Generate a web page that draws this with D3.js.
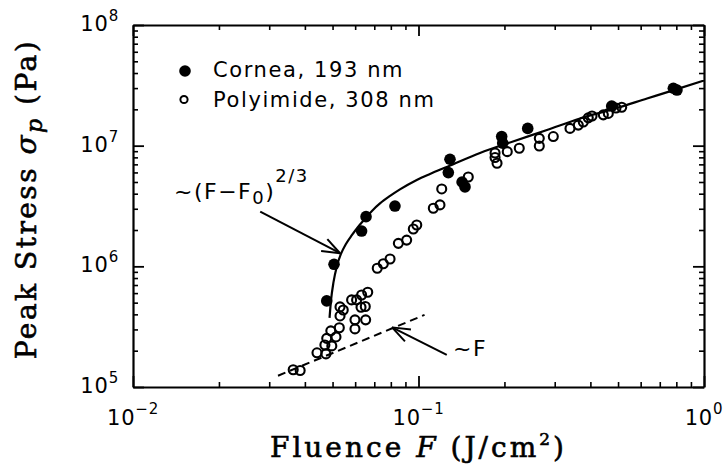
<!DOCTYPE html>
<html>
<head>
<meta charset="utf-8">
<script src="https://cdn.jsdelivr.net/npm/d3@7"></script>
<style>
  body { margin: 0; background: #fff; }
  svg { display: block; }
  .axis path, .axis line { stroke: #000; }
</style>
</head>
<body>
<svg id="chart" width="728" height="471"></svg>
<script>
// cornea, 193 nm (filled dots)
const corneaFluence = [0.0477, 0.0506, 0.0632, 0.0655, 0.0827, 0.1272, 0.1289, 0.1421, 0.1455,
  0.1956, 0.1972, 0.2413, 0.475, 0.781, 0.804];
const corneaStress = [5.17e5, 1.04e6, 1.96e6, 2.58e6, 3.16e6, 5.98e6, 7.72e6, 5.0e6, 4.55e6,
  1.19e7, 1.05e7, 1.39e7, 2.13e7, 2.99e7, 2.89e7];

// polyimide, 308 nm (open dots)
const polyFluence = [0.0364, 0.0385, 0.0441, 0.0474, 0.0470, 0.0497, 0.0477, 0.0514, 0.0493,
  0.0528, 0.0531, 0.0531, 0.0545, 0.0583, 0.0607, 0.0632, 0.0664, 0.0629, 0.0651, 0.0599,
  0.0653, 0.0599, 0.0717, 0.0753, 0.0795, 0.0850, 0.0909, 0.0959, 0.0986, 0.1127, 0.1189,
  0.1206, 0.1494, 0.1854, 0.1854, 0.1884, 0.2046, 0.2254, 0.2649, 0.2649, 0.2966, 0.3393,
  0.3628, 0.3777, 0.3932, 0.4053, 0.4440, 0.4622, 0.5149, 0.4917];
const polyStress = [1.39e5, 1.37e5, 1.92e5, 1.88e5, 2.23e5, 2.19e5, 2.53e5, 2.60e5, 2.92e5,
  3.10e5, 3.88e5, 4.61e5, 4.35e5, 5.27e5, 5.27e5, 5.79e5, 6.10e5, 4.58e5, 4.65e5, 3.60e5,
  3.60e5, 3.03e5, 9.64e5, 1.05e6, 1.15e6, 1.55e6, 1.65e6, 2.04e6, 2.20e6, 3.03e6, 3.23e6,
  4.38e6, 5.50e6, 8.70e6, 7.98e6, 7.15e6, 8.92e6, 9.52e6, 1.15e7, 9.94e6, 1.19e7, 1.39e7,
  1.48e7, 1.57e7, 1.70e7, 1.76e7, 1.80e7, 1.85e7, 2.08e7, 2.05e7];

// ~(F-F0)^(2/3) fit curve
const fitFluence = [0.0488, 0.0494, 0.0504, 0.0518, 0.0535, 0.0557, 0.0585, 0.0614, 0.0644,
  0.0687, 0.0733, 0.0795, 0.0861, 0.0986, 0.1097, 0.1269, 0.1642, 0.2143, 0.2818, 0.3679,
  0.4801, 0.6316, 0.7787, 1.0];
const fitStress = [3.74e5, 5.27e5, 7.43e5, 1.008e6, 1.267e6, 1.533e6, 1.82e6, 2.12e6, 2.42e6,
  2.88e6, 3.32e6, 3.83e6, 4.34e6, 5.2e6, 5.83e6, 6.73e6, 8.70e6, 1.083e7, 1.35e7, 1.68e7,
  2.01e7, 2.46e7, 2.87e7, 3.47e7];

// ~F dashed line
const linFluence = [0.0322, 0.105];
const linStress = [1.24e5, 3.96e5];

const xTickExp = [-2, -1, 0];
const yTickExp = [5, 6, 7, 8];

const W = 728, H = 471;
const mLeft = 133, mRight = 704, mTop = 25, mBottom = 387;
const sans = "'DejaVu Sans', sans-serif";
const serif = "'DejaVu Serif', serif";

const svg = d3.select('#chart');

const x = d3.scaleLog().domain([0.01, 1]).range([mLeft, mRight]);
const y = d3.scaleLog().domain([1e5, 1e8]).range([mBottom, mTop]);

// minor tick positions 2..9 in every decade
function minors(lo, hi) {
  let out = [];
  for (let e = lo; e < hi; e++) {
    for (let m = 2; m <= 9; m++) out.push(m * Math.pow(10, e));
  }
  return out;
}
const xMajor = xTickExp.map(e => Math.pow(10, e));
const yMajor = yTickExp.map(e => Math.pow(10, e));
const xMinor = minors(-2, 0);
const yMinor = minors(5, 8);

function drawAxis(axisFn, scale, pos, major, minor) {
  let g = svg.append('g').attr('class', 'axis').attr('transform', pos);
  g.call(axisFn(scale).tickValues(major).tickSize(-11).tickSizeOuter(0).tickFormat(''));
  g.select('.domain').attr('stroke-width', 2.2);
  g.selectAll('.tick line').attr('stroke-width', 1.8);
  let g2 = svg.append('g').attr('class', 'axis').attr('transform', pos);
  g2.call(axisFn(scale).tickValues(minor).tickSize(-5).tickSizeOuter(0).tickFormat(''));
  g2.select('.domain').remove();
  g2.selectAll('.tick line').attr('stroke-width', 1.6);
}

drawAxis(d3.axisBottom, x, `translate(0,${mBottom})`, xMajor, xMinor);
drawAxis(d3.axisTop, x, `translate(0,${mTop})`, xMajor, xMinor);
drawAxis(d3.axisLeft, y, `translate(${mLeft},0)`, yMajor, yMinor);
drawAxis(d3.axisRight, y, `translate(${mRight},0)`, yMajor, yMinor);

// tick labels with superscripts
xTickExp.forEach(e => {
  let t = svg.append('text')
    .attr('x', x(Math.pow(10, e)))
    .attr('y', 425)
    .attr('text-anchor', 'middle')
    .style('font-family', sans)
    .style('font-size', '21px')
    .style('letter-spacing', '0.8px')
    .text('10');
  t.append('tspan').attr('dy', -11).style('font-size', '15px')
    .text(e < 0 ? '\u2212' + (-e) : String(e));
});
yTickExp.forEach(e => {
  let t = svg.append('text')
    .attr('x', 119)
    .attr('y', y(Math.pow(10, e)) + 6)
    .attr('text-anchor', 'end')
    .style('font-family', sans)
    .style('font-size', '21px')
    .style('letter-spacing', '0.8px')
    .text('10');
  t.append('tspan').attr('dy', -10).style('font-size', '15px').text(String(e));
});

// axis titles (regular serif, thickened a little with a stroke)
let xt = svg.append('text')
  .attr('x', (mLeft + mRight) / 2)
  .attr('y', 457)
  .attr('text-anchor', 'middle')
  .style('font-family', serif)
  .style('font-size', '28px')
  .style('letter-spacing', '3px')
  .attr('stroke', '#000')
  .attr('stroke-width', 0.6)
  .text('Fluence ');
xt.append('tspan').style('font-style', 'italic').text('F');
xt.append('tspan').text(' (J/cm');
xt.append('tspan').attr('dy', -12).style('font-size', '17px').text('2');
xt.append('tspan').attr('dy', 12).text(')');

let yt = svg.append('text')
  .attr('transform', `translate(36,199) rotate(-90)`)
  .attr('text-anchor', 'middle')
  .style('font-family', serif)
  .style('font-size', '28px')
  .style('letter-spacing', '2.5px')
  .attr('stroke', '#000')
  .attr('stroke-width', 0.6)
  .text('Peak Stress ');
yt.append('tspan').style('font-style', 'italic').text('\u03C3');
yt.append('tspan').attr('dy', 6).style('font-style', 'italic').style('font-size', '22px').text('p');
yt.append('tspan').attr('dy', -6).text(' (Pa)');

// fit curve and ~F line
const fitData = fitFluence.map((f, i) => ({ f: f, s: fitStress[i] }));
const linData = linFluence.map((f, i) => ({ f: f, s: linStress[i] }));
const line = d3.line().x(d => x(d.f)).y(d => y(d.s)).curve(d3.curveMonotoneX);

svg.append('path')
  .datum(fitData)
  .attr('d', line)
  .attr('fill', 'none')
  .attr('stroke', '#000')
  .attr('stroke-width', 2.2);

svg.append('path')
  .datum(linData)
  .attr('d', d3.line().x(d => x(d.f)).y(d => y(d.s)))
  .attr('fill', 'none')
  .attr('stroke', '#000')
  .attr('stroke-width', 2)
  .attr('stroke-dasharray', '8,5');

// data points
const polyData = polyFluence.map((f, i) => ({ f: f, s: polyStress[i] }));
const corneaData = corneaFluence.map((f, i) => ({ f: f, s: corneaStress[i] }));

svg.append('g').selectAll('circle')
  .data(polyData)
  .enter()
  .append('circle')
  .attr('cx', d => x(d.f))
  .attr('cy', d => y(d.s))
  .attr('r', 4.5)
  .attr('fill', 'none')
  .attr('stroke', '#000')
  .attr('stroke-width', 2.1);

svg.append('g').selectAll('circle')
  .data(corneaData)
  .enter()
  .append('circle')
  .attr('cx', d => x(d.f))
  .attr('cy', d => y(d.s))
  .attr('r', 5.8)
  .attr('fill', '#000');

// arrows
function arrow(x1, y1, x2, y2) {
  svg.append('line')
    .attr('x1', x1).attr('y1', y1).attr('x2', x2).attr('y2', y2)
    .attr('stroke', '#000').attr('stroke-width', 2);
  let a = Math.atan2(y1 - y2, x1 - x2);
  [-0.36, 0.36].forEach(da => {
    svg.append('line')
      .attr('x1', x2).attr('y1', y2)
      .attr('x2', x2 + 19 * Math.cos(a + da))
      .attr('y2', y2 + 19 * Math.sin(a + da))
      .attr('stroke', '#000').attr('stroke-width', 2);
  });
}
arrow(x(0.0279), y(2.84e6), x(0.0531), y(1.284e6));
arrow(x(0.1256), y(1.845e5), x(0.0808), y(3.12e5));

// annotations
let a1 = svg.append('text')
  .attr('x', 174).attr('y', 199)
  .style('font-family', sans)
  .style('font-size', '22px')
  .style('letter-spacing', '1.5px')
  .text('~(F\u2212F');
a1.append('tspan').attr('dy', 5).style('font-size', '18px').text('0');
a1.append('tspan').attr('dy', -5).text(')');
a1.append('tspan').attr('dy', -17).style('font-size', '18px').text('2/3');

svg.append('text')
  .attr('x', 453).attr('y', 356)
  .style('font-family', sans)
  .style('font-size', '22px')
  .style('letter-spacing', '1.5px')
  .text('~F');

// legend
svg.append('circle').attr('cx', 185).attr('cy', 71).attr('r', 5.8).attr('fill', '#000');
svg.append('circle').attr('cx', 184).attr('cy', 99.5).attr('r', 3.6)
  .attr('fill', 'none').attr('stroke', '#000').attr('stroke-width', 2);
svg.append('text').attr('x', 213).attr('y', 77)
  .style('font-family', sans).style('font-size', '21px').style('letter-spacing', '1.6px')
  .text('Cornea, 193 nm');
svg.append('text').attr('x', 213).attr('y', 107)
  .style('font-family', sans).style('font-size', '21px').style('letter-spacing', '1.6px')
  .text('Polyimide, 308 nm');
</script>
</body>
</html>
